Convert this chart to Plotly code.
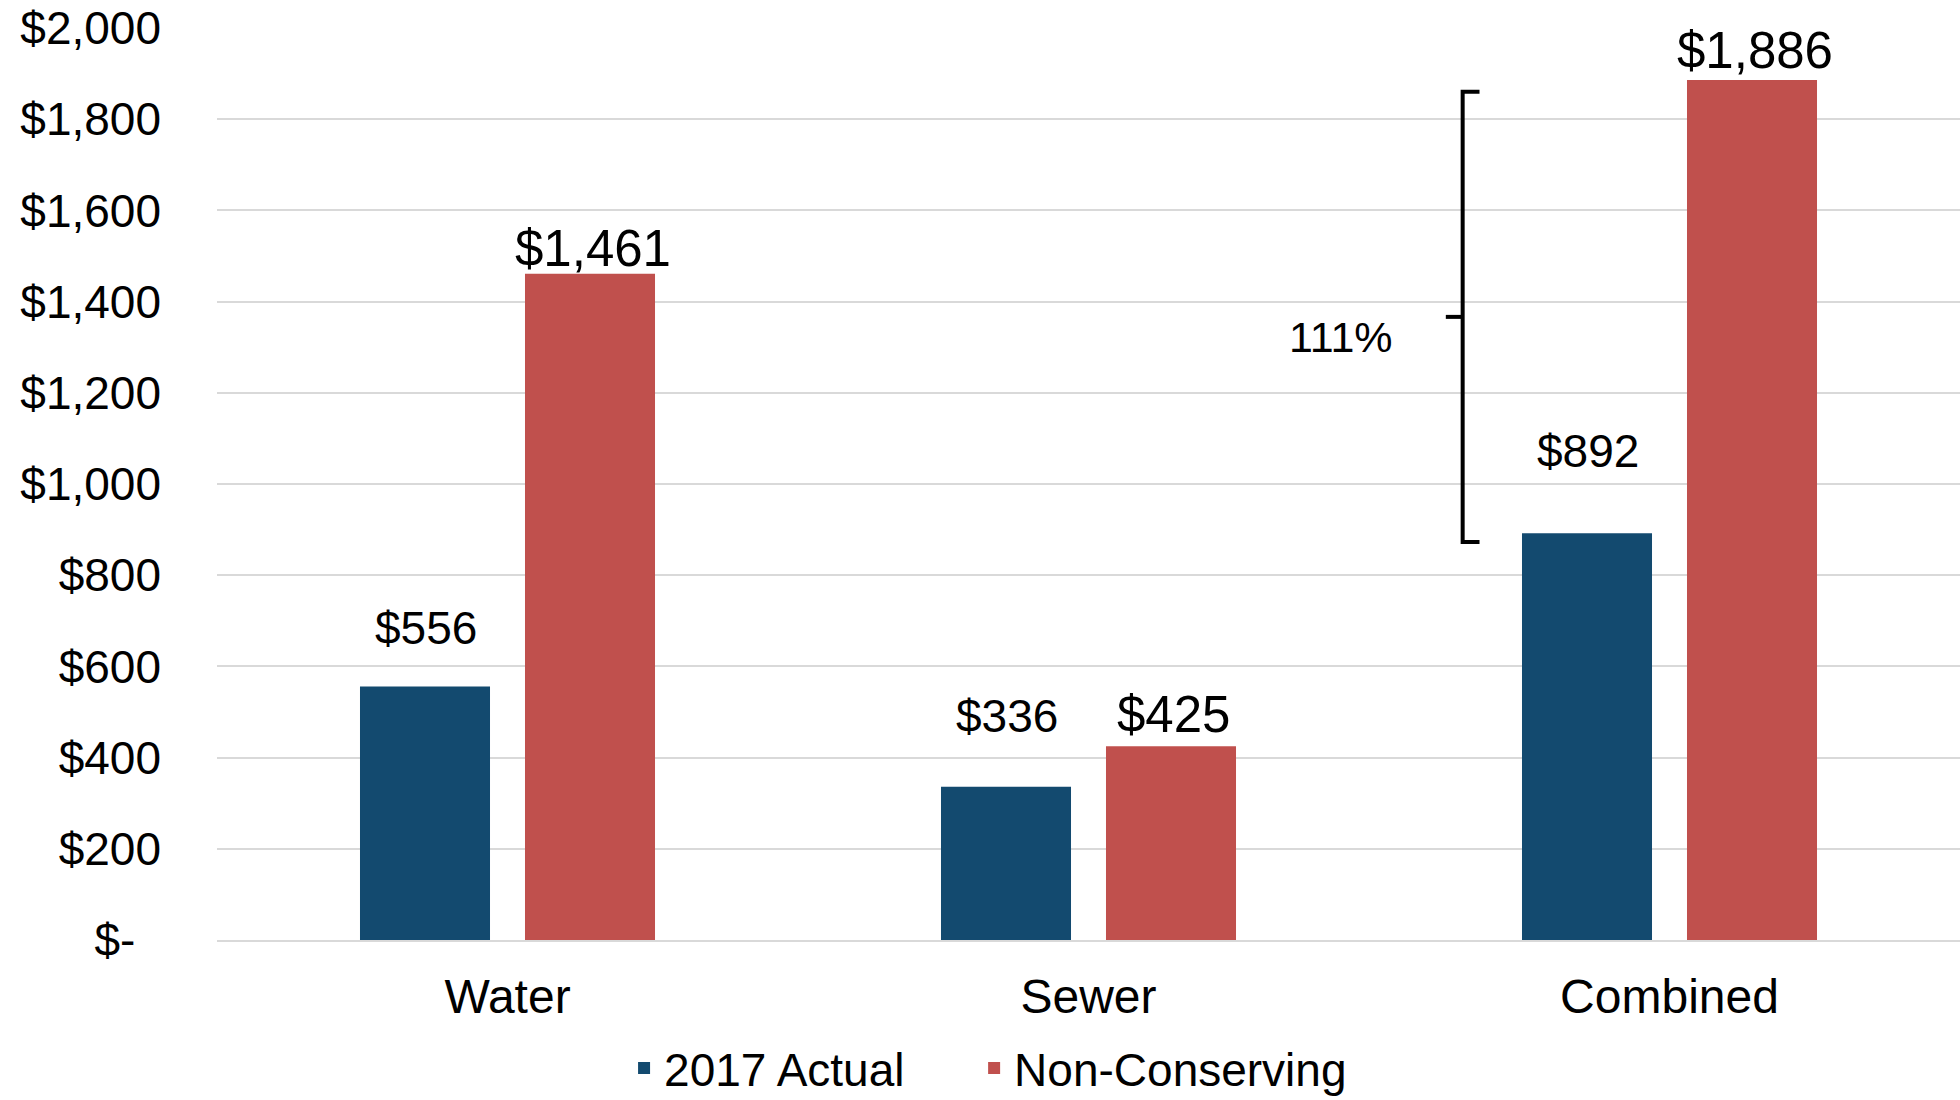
import plotly.graph_objects as go

categories = ["Water", "Sewer", "Combined"]
actual_2017 = [556, 336, 892]
non_conserving = [1461, 425, 1886]
series_names = ["2017 Actual", "Non-Conserving"]
tick_values = [0, 200, 400, 600, 800, 1000, 1200, 1400, 1600, 1800, 2000]
tick_labels = ["$-\u00a0\u00a0", "$200", "$400", "$600", "$800", "$1,000",
               "$1,200", "$1,400", "$1,600", "$1,800", "$2,000"]
bracket_label = "111%"

BLUE = "#134A6F"
RED = "#C0504D"
FONT = "Arial, Liberation Sans, sans-serif"

fig = go.Figure()
fig.add_trace(go.Bar(x=categories, y=actual_2017, name=series_names[0],
                     legend="legend",
                     marker=dict(color=BLUE, line=dict(width=0))))
fig.add_trace(go.Bar(x=categories, y=non_conserving, name=series_names[1],
                     legend="legend2",
                     marker=dict(color=RED, line=dict(width=0))))

# value labels (offsets mirror the manual placement in the original)
blue_shift = [58, 71, 82]
red_shift = [25, 32, 29]
for i, c in enumerate(categories):
    fig.add_annotation(x=c, y=actual_2017[i], xref="x", yref="y",
                       text=f"${actual_2017[i]:,}", showarrow=False,
                       xshift=-82, yshift=blue_shift[i], yanchor="middle",
                       font=dict(family=FONT, size=46, color="black"))
    fig.add_annotation(x=c, y=non_conserving[i], xref="x", yref="y",
                       text=f"${non_conserving[i]:,}", showarrow=False,
                       xshift=85, yshift=red_shift[i], yanchor="middle",
                       font=dict(family=FONT, size=51, color="black"))

# bracket between Combined values
lo, hi = 873, 1860
mid = (lo + hi) / 2
xb, xr, xl = 1.644, 1.673, 1.615
fig.add_shape(type="path", xref="x", yref="y",
              path=f"M {xr} {hi} L {xb} {hi} L {xb} {lo} L {xr} {lo}",
              line=dict(color="black", width=4))
fig.add_shape(type="line", xref="x", yref="y", x0=xb, x1=xl, y0=mid, y1=mid,
              line=dict(color="black", width=4))
fig.add_annotation(x=1.434, y=1322, xref="x", yref="y", text=bracket_label,
                   showarrow=False, font=dict(family=FONT, size=43, color="black"))

legend_style = dict(orientation="h", xref="container", yref="container",
                    xanchor="left", yanchor="middle", y=0.029,
                    font=dict(family=FONT, size=46, color="black"),
                    bgcolor="rgba(0,0,0,0)", itemwidth=30)

fig.update_layout(
    width=1960, height=1100,
    margin=dict(l=217, r=0, t=28, b=160),
    plot_bgcolor="white", paper_bgcolor="white",
    barmode="group", bargap=0.432, bargroupgap=0.212,
    font=dict(family=FONT, color="black"),
    showlegend=True,
    legend=dict(x=0.3184, **legend_style),
    legend2=dict(x=0.497, **legend_style),
)
fig.update_yaxes(range=[0, 2000], tickvals=tick_values, ticktext=tick_labels,
                 showgrid=True, gridcolor="#D9D9D9", gridwidth=1.5,
                 zeroline=False, showline=False, ticks="",
                 ticklabelstandoff=55,
                 tickfont=dict(family=FONT, size=46, color="black"))
fig.update_xaxes(showgrid=False, showline=True, linecolor="#D9D9D9", linewidth=1.5,
                 ticks="", ticklabelstandoff=14,
                 tickfont=dict(family=FONT, size=48, color="black"))

fig.write_html("out.html")
